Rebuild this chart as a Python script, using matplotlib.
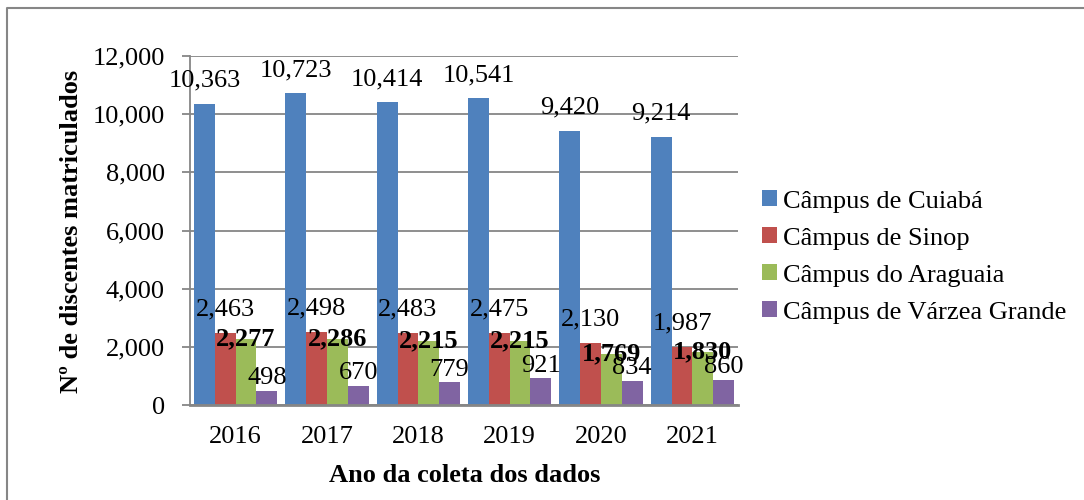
import matplotlib.pyplot as plt
import numpy as np
from matplotlib.lines import Line2D
from matplotlib.patches import Patch

# data
anos = ['2016', '2017', '2018', '2019', '2020', '2021']
campus = ['Câmpus de Cuiabá', 'Câmpus de Sinop', 'Câmpus do Araguaia', 'Câmpus de Várzea Grande']
cuiaba = [10363, 10723, 10414, 10541, 9420, 9214]
sinop = [2463, 2498, 2483, 2475, 2130, 1987]
araguaia = [2277, 2286, 2215, 2215, 1769, 1830]
varzea = [498, 670, 779, 921, 834, 860]
y_ticks = [0, 2000, 4000, 6000, 8000, 10000, 12000]

cores = ['#4F81BD', '#C0504D', '#9BBB59', '#8064A2']
series = [cuiaba, sinop, araguaia, varzea]

plt.rcParams['font.family'] = ['Liberation Serif', 'DejaVu Serif']

fig = plt.figure(figsize=(10.84, 5), dpi=100)
ax = fig.add_axes([190/1084, 1 - 405/500, (738 - 190)/1084, (405 - 56)/500])

x = np.arange(len(anos))
largura = 0.2275
# label offsets in points (baseline relative to bar top) and weight per series
offsets = [12.3, 12.6, -5.0, 4.7]
pesos = ['normal', 'normal', 'bold', 'normal']

for i, (vals, cor) in enumerate(zip(series, cores)):
	pos = x + (i - 1.5) * largura
	ax.bar(pos, vals, width=largura, color=cor, zorder=3)
	for px, v in zip(pos, vals):
		ax.annotate(f'{v:,}', (px, v), xytext=(0, offsets[i]), textcoords='offset points',
			ha='center', va='baseline', fontsize=19, fontweight=pesos[i], zorder=5)

ax.set_xlim(-0.5, len(anos) - 0.5)
ax.set_ylim(0, 12000)
ax.set_yticks(y_ticks)
ax.set_yticklabels([f'{t:,}' for t in y_ticks])
ax.set_xticks(x)
ax.set_xticklabels(anos)
ax.tick_params(axis='y', labelsize=19, length=6, width=1.3, color='#868686', pad=12)
ax.tick_params(axis='x', labelsize=19, length=0, pad=15)

ax.grid(axis='y', color='#868686', linewidth=1.3, zorder=0)
for s in ['top', 'right']:
	ax.spines[s].set_visible(False)
ax.spines['left'].set_color('#868686')
ax.spines['left'].set_linewidth(1.3)
ax.spines['bottom'].set_color('#868686')
ax.spines['bottom'].set_linewidth(2)
ax.spines['bottom'].set_zorder(4)

fig.text(72/1084, 1 - 231/500, 'Nº de discentes matriculados', rotation=90,
	ha='center', va='center', fontsize=19, fontweight='bold')
fig.text(465/1084, 1 - 475/500, 'Ano da coleta dos dados',
	ha='center', va='center', fontsize=19, fontweight='bold')

handles = [Patch(facecolor=c, edgecolor='none') for c in cores]
fig.legend(handles, campus, loc='center left', bbox_to_anchor=(762/1084, 1 - 257/500),
	frameon=False, fontsize=19, handlelength=0.55, handleheight=0.55,
	handletextpad=0.25, labelspacing=0.56, borderpad=0, borderaxespad=0)

# outer border of the chart area (only top and left visible)
fig.add_artist(Line2D([7/1084, 7/1084, 1], [0, 1 - 8/500, 1 - 8/500],
	transform=fig.transFigure, color='#868686', linewidth=1.5))

fig.savefig('out.png', dpi=100)
